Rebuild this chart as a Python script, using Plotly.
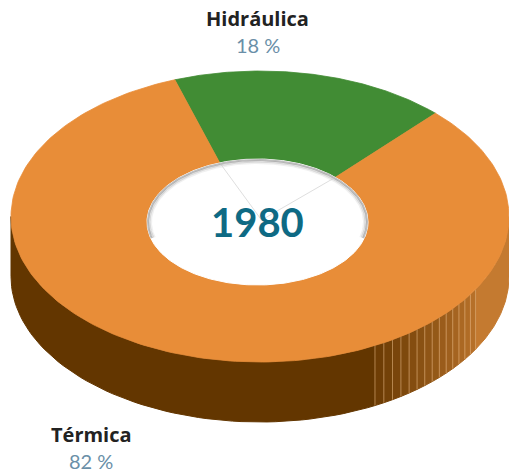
import numpy as np
import plotly.graph_objects as go

# --- data -------------------------------------------------------------
year = "1980"
labels = ["Hidráulica", "Térmica"]
shares = [18, 82]                      # percent of generation

# --- style ------------------------------------------------------------
top_colors = ["#418C34", "#E88D38"]
side_dark = ["#1F4A18", "#633600"]
side_light = ["#3A7A2E", "#C47A30"]
label_pos = [(257.5, 18, 45), (91, 434, 461)]   # (x, name y, value y)

W, H = 509, 472
CX, CY, RX, RY = 260.0, 216.5, 249.0, 145.5      # outer top ellipse
HX, HY, HRX, HRY = 257.5, 222.0, 110.5, 63.0     # hole ellipse
DEPTH = 60.0
START = 110.0                                    # start angle, degrees
GRAD_A, GRAD_B = -62.5, -30.0                    # side shading ramp


def outer(t, dy=0.0):
    r = np.radians(t)
    return CX + RX * np.cos(r), CY - RY * np.sin(r) + dy


def inner(t):
    r = np.radians(t)
    return HX + HRX * np.cos(r), HY - HRY * np.sin(r)


def mix(c1, c2, f):
    a = [int(c1[i:i + 2], 16) for i in (1, 3, 5)]
    b = [int(c2[i:i + 2], 16) for i in (1, 3, 5)]
    m = [round(a[k] + (b[k] - a[k]) * f) for k in range(3)]
    return "#%02x%02x%02x" % tuple(m)


def side_poly(t0, t1, n=60):
    ts = np.linspace(t0, t1, n)
    x1, y1 = outer(ts)
    x2, y2 = outer(ts[::-1], DEPTH)
    return np.concatenate([x1, x2, [x1[0]]]), np.concatenate([y1, y2, [y1[0]]])


fig = go.Figure()

# slice angle ranges (clockwise from START)
ranges = []
a0 = START
for s in shares:
    a1 = a0 - s / 100 * 360
    ranges.append((a1, a0))
    a0 = a1

# --- side walls (front half only) ------------------------------------
edge_lines = []
for i, (lo, hi) in enumerate(ranges):
    for k in (-1, 0, 1):
        f_lo, f_hi = max(lo, -180 + 360 * k), min(hi, 360 * k)
        if f_hi <= f_lo:
            continue
        # local angle in [-180, 0]
        off = 360 * k
        g_lo, g_hi = f_lo - off, f_hi - off
        # dark part
        a, b = g_lo, min(g_hi, GRAD_A)
        if b > a:
            x, y = side_poly(a + off, b + off)
            fig.add_trace(go.Scatter(x=x, y=y, fill="toself", mode="lines",
                                     fillcolor=side_dark[i],
                                     line=dict(color=side_dark[i], width=1),
                                     hoverinfo="skip", showlegend=False))
        # light part
        a, b = max(g_lo, GRAD_B), g_hi
        if b > a:
            x, y = side_poly(a + off, b + off)
            fig.add_trace(go.Scatter(x=x, y=y, fill="toself", mode="lines",
                                     fillcolor=side_light[i],
                                     line=dict(color=side_light[i], width=1),
                                     hoverinfo="skip", showlegend=False))
        # shaded ramp in narrow strips
        a, b = max(g_lo, GRAD_A), min(g_hi, GRAD_B)
        if b > a:
            nstrip = 14
            edges = np.linspace(a, b, nstrip + 1)
            for j in range(nstrip):
                f = (j + 0.5) / nstrip
                col = mix(side_dark[i], side_light[i], 0.08 + 0.8 * f)
                x, y = side_poly(edges[j] + off, edges[j + 1] + off, 8)
                fig.add_trace(go.Scatter(x=x, y=y, fill="toself", mode="lines",
                                         fillcolor=col, line=dict(color=col, width=1),
                                         hoverinfo="skip", showlegend=False))
            edge_lines.extend(list(edges + off))

# faint seams between ramp strips
for t in edge_lines:
    xa, ya = outer(t)
    xb, yb = outer(t, DEPTH)
    fig.add_trace(go.Scatter(x=[xa, xb], y=[ya, yb], mode="lines",
                             line=dict(color="rgba(235,190,140,0.55)", width=1),
                             hoverinfo="skip", showlegend=False))

# --- top face ---------------------------------------------------------
for i, (lo, hi) in enumerate(ranges):
    ts = np.linspace(hi, lo, 240)
    xo, yo = outer(ts)
    xi, yi = inner(ts[::-1])
    x = np.concatenate([xo, xi, [xo[0]]])
    y = np.concatenate([yo, yi, [yo[0]]])
    fig.add_trace(go.Scatter(x=x, y=y, fill="toself", mode="lines",
                             fillcolor=top_colors[i],
                             line=dict(color=top_colors[i], width=0.8),
                             name=labels[i], hoverinfo="name", showlegend=False))

# --- hole -------------------------------------------------------------
th = np.linspace(0, 360, 361)
hx, hy = inner(th)
fig.add_trace(go.Scatter(x=hx, y=hy, fill="toself", mode="lines",
                         fillcolor="#FFFFFF", line=dict(color="#FFFFFF", width=1),
                         hoverinfo="skip", showlegend=False))
# soft shadow on the rim of the hole
for d, alpha, w in [(1.0, 0.45, 2), (2.5, 0.22, 2), (4.0, 0.1, 2)]:
    ts = np.linspace(-15, 195, 200)
    r = np.radians(ts)
    fig.add_trace(go.Scatter(x=HX + (HRX - d) * np.cos(r),
                             y=HY - (HRY - d) * np.sin(r), mode="lines",
                             line=dict(color="rgba(110,110,110,%.2f)" % alpha, width=w),
                             hoverinfo="skip", showlegend=False))
# slice seams continuing toward the center
for (lo, hi) in ranges:
    xa, ya = inner(hi)
    fig.add_trace(go.Scatter(x=[xa, HX + 4], y=[ya, HY - 2], mode="lines",
                             line=dict(color="rgba(200,200,200,0.6)", width=1),
                             hoverinfo="skip", showlegend=False))

# --- text -------------------------------------------------------------
fig.add_annotation(x=HX, y=HY, text="<b>%s</b>" % year, showarrow=False,
                   xref="x", yref="y",
                   font=dict(family="Lato", size=40, color="#0E6A84"))
for i, name in enumerate(labels):
    lx, ny, vy = label_pos[i]
    fig.add_annotation(x=lx, y=ny, text="<b>%s</b>" % name, showarrow=False,
                       xref="x", yref="y", borderpad=0,
                       font=dict(family="Open Sans", size=20, color="#222222"))
    fig.add_annotation(x=lx, y=vy, text="%d %%" % shares[i], showarrow=False,
                       xref="x", yref="y", borderpad=0,
                       font=dict(family="Lato", size=20, color="#6A8FA8"))

fig.update_xaxes(range=[0, W], visible=False, fixedrange=True)
fig.update_yaxes(range=[H, 0], visible=False, fixedrange=True)
fig.update_layout(width=W, height=H, margin=dict(l=0, r=0, t=0, b=0),
                  paper_bgcolor="white", plot_bgcolor="white")

fig.write_html("out.html")
